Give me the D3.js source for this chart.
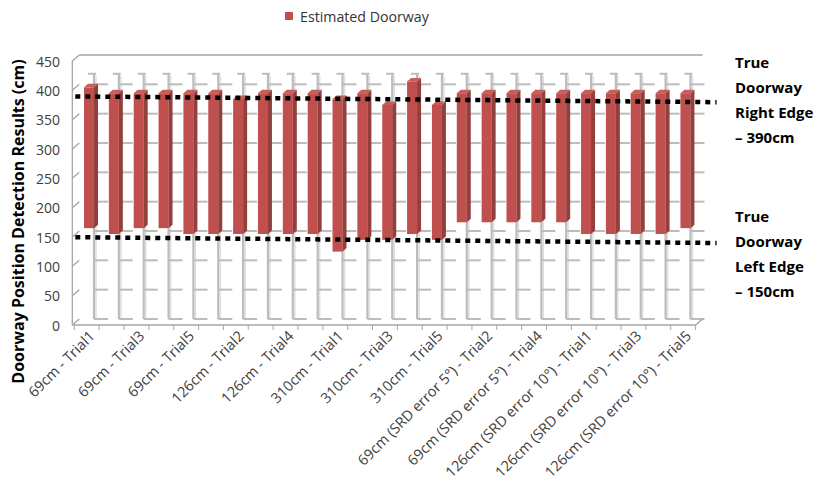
<!DOCTYPE html>
<html>
<head>
<meta charset="utf-8">
<script src="https://cdn.jsdelivr.net/npm/d3@7"></script>
<style>
  html, body { margin: 0; padding: 0; background: #ffffff; }
  svg { display: block; }
  text { font-family: "Open Sans", "Liberation Sans", sans-serif; }
</style>
</head>
<body>
<svg id="chart" width="814" height="487"></svg>
<script>
// Doorway detection trials
const categories = [
  "69cm - Trial1", "69cm - Trial2", "69cm - Trial3", "69cm - Trial4", "69cm - Trial5",
  "126cm - Trial1", "126cm - Trial2", "126cm - Trial3", "126cm - Trial4", "126cm - Trial5",
  "310cm - Trial1", "310cm - Trial2", "310cm - Trial3", "310cm - Trial4", "310cm - Trial5",
  "69cm (SRD error 5°) - Trial1", "69cm (SRD error 5°) - Trial2", "69cm (SRD error 5°) - Trial3",
  "69cm (SRD error 5°) - Trial4", "69cm (SRD error 5°) - Trial5",
  "126cm (SRD error 10°) - Trial1", "126cm (SRD error 10°) - Trial2", "126cm (SRD error 10°) - Trial3",
  "126cm (SRD error 10°) - Trial4", "126cm (SRD error 10°) - Trial5"
];
// Estimated left edge (bar bottom) and right edge (bar top), cm
const leftEdge  = [160, 150, 160, 160, 150, 150, 150, 150, 150, 150, 120, 140, 140, 150, 140,
                   170, 170, 170, 170, 170, 150, 150, 150, 150, 160];
const rightEdge = [400, 390, 390, 390, 390, 390, 380, 390, 390, 390, 380, 390, 370, 410, 370,
                   390, 390, 390, 390, 390, 390, 390, 390, 390, 390];

const yTicks = [0, 50, 100, 150, 200, 250, 300, 350, 400, 450];
const seriesName = "Estimated Doorway";
const yTitle = "Doorway Position  Detection Results (cm)";

// True doorway reference edges
const trueRight = 390;
const trueLeft = 150;
const trueRightLabel = ["True", "Doorway", "Right Edge", "– 390cm"];
const trueLeftLabel = ["True", "Doorway", "Left Edge", "– 150cm"];

const svg = d3.select("#chart");

const y = d3.scaleLinear().domain([0, 450]).range([325, 61]);
const x = d3.scaleBand().domain(categories).range([74.3, 695.6]).padding(0);
const bw = x.bandwidth();

// perspective offsets for the back wall and for bars at mid depth
const wallDx = 7, wallDy = -6;
const barDy = -3;
const depthDx = 4, depthDy = -3.5;
const barFront = 10;

const gridColor = "#bcbcbc";
const axisColor = "#a6a6a6";

// ---- back wall frame ----
const x0 = x.range()[0], x1 = x.range()[1];
const g = svg.append("g");

// top edge of the back wall (450)
g.append("line")
  .attr("x1", x0 - 2 + wallDx).attr("x2", x1 + wallDx)
  .attr("y1", y(450) + wallDy).attr("y2", y(450) + wallDy)
  .attr("stroke", axisColor).attr("stroke-width", 1.5);

// vertical pillars behind each category, with gridline stubs
const pillarTop = 418;
const gridVals = yTicks.filter(v => v < 450);
categories.forEach(c => {
  const px = x(c) + 19.7;
  g.append("line")
    .attr("x1", px + 2).attr("x2", px + 2)
    .attr("y1", y(pillarTop) + wallDy + 2).attr("y2", y(0) + wallDy)
    .attr("stroke", "#dedede").attr("stroke-width", 1.5);
  g.append("line")
    .attr("x1", px).attr("x2", px)
    .attr("y1", y(pillarTop) + wallDy).attr("y2", y(0) + wallDy)
    .attr("stroke", gridColor).attr("stroke-width", 2.2);
  g.append("line")
    .attr("x1", px - 6).attr("x2", px + 2)
    .attr("y1", y(pillarTop) + wallDy).attr("y2", y(pillarTop) + wallDy)
    .attr("stroke", gridColor).attr("stroke-width", 2);
  gridVals.forEach(v => {
    g.append("line")
      .attr("x1", px).attr("x2", px + 14)
      .attr("y1", y(v) + wallDy).attr("y2", y(v) + wallDy)
      .attr("stroke", gridColor).attr("stroke-width", 2);
  });
});

// front-left value axis with diagonal ticks into the wall
g.append("line")
  .attr("x1", x0 - 2).attr("x2", x0 - 2)
  .attr("y1", y(450)).attr("y2", y(0))
  .attr("stroke", axisColor).attr("stroke-width", 1.3);
yTicks.forEach(v => {
  g.append("line")
    .attr("x1", x0 - 2).attr("x2", x0 - 2 + wallDx)
    .attr("y1", y(v)).attr("y2", y(v) + wallDy)
    .attr("stroke", axisColor).attr("stroke-width", 1.3);
});

// floor front edge, right corner and category ticks
g.append("line")
  .attr("x1", x0 - 2).attr("x2", x1)
  .attr("y1", y(0)).attr("y2", y(0))
  .attr("stroke", axisColor).attr("stroke-width", 1.5);
g.append("line")
  .attr("x1", x1).attr("x2", x1 + wallDx)
  .attr("y1", y(0)).attr("y2", y(0) + wallDy)
  .attr("stroke", axisColor).attr("stroke-width", 1.5);
d3.range(categories.length + 1).forEach(i => {
  const tx = x0 + i * bw;
  g.append("line")
    .attr("x1", tx).attr("x2", tx)
    .attr("y1", y(0)).attr("y2", y(0) + 5)
    .attr("stroke", axisColor).attr("stroke-width", 1);
});

// ---- y axis labels ----
svg.append("g").selectAll("text").data(yTicks).join("text")
  .attr("x", 60).attr("y", d => y(d))
  .attr("text-anchor", "end").attr("dominant-baseline", "central")
  .attr("font-size", 14).attr("fill", "#404040")
  .text(d => d);

// ---- 3D floating bars ----
const rows = categories.map((c, i) => ({ c, lo: leftEdge[i], hi: rightEdge[i] }));
const bars = svg.append("g");
rows.forEach(d => {
  const bx0 = x(d.c) + 9.7, bx1 = bx0 + barFront;
  const yt = y(d.hi) + barDy, yb = y(d.lo) + barDy;
  // side face
  bars.append("path")
    .attr("d", `M${bx1},${yt} L${bx1 + depthDx},${yt + depthDy} L${bx1 + depthDx},${yb + depthDy} L${bx1},${yb} Z`)
    .attr("fill", "#93403d");
  // top face
  bars.append("path")
    .attr("d", `M${bx0},${yt} L${bx0 + depthDx},${yt + depthDy} L${bx1 + depthDx},${yt + depthDy} L${bx1},${yt} Z`)
    .attr("fill", "#c95d5a");
  // front face
  bars.append("rect")
    .attr("x", bx0).attr("y", yt)
    .attr("width", barFront).attr("height", yb - yt)
    .attr("fill", "#c0504d");
});

// ---- true doorway edges (dotted) ----
[trueRight, trueLeft].forEach(v => {
  svg.append("line")
    .attr("x1", x0 + 1).attr("x2", x1 + 21)
    .attr("y1", y(v) + 0.2).attr("y2", y(v) + 6)
    .attr("stroke", "#000").attr("stroke-width", 4.5)
    .attr("stroke-dasharray", "5,5");
});

// ---- category labels (every other) ----
svg.append("g").selectAll("text")
  .data(categories.filter((c, i) => i % 2 === 0)).join("text")
  .attr("transform", c => `translate(${x(c) + bw / 2 + 9},${y(0) + 12}) rotate(-45)`)
  .attr("text-anchor", "end")
  .attr("font-size", 14.5).attr("fill", "#404040")
  .text(c => c);

// ---- y axis title ----
svg.append("text")
  .attr("transform", `translate(24,${(y(450) + 386) / 2 - 2}) rotate(-90)`)
  .attr("text-anchor", "middle")
  .attr("font-size", 16).attr("font-weight", "bold").attr("fill", "#000")
  .text(yTitle);

// ---- reference edge annotations ----
function annotate(lines, top) {
  svg.append("g").selectAll("text").data(lines).join("text")
    .attr("x", 735).attr("y", (d, i) => top + i * 25)
    .attr("dominant-baseline", "central")
    .attr("font-size", 15).attr("font-weight", "bold").attr("fill", "#000")
    .text(d => d);
}
annotate(trueRightLabel, 62);
annotate(trueLeftLabel, 216);

// ---- legend ----
const lg = svg.append("g");
lg.append("rect").attr("x", 285).attr("y", 12).attr("width", 8).attr("height", 8).attr("fill", "#c0504d");
lg.append("text").attr("x", 300).attr("y", 16).attr("dominant-baseline", "central")
  .attr("font-size", 14.2).attr("fill", "#333")
  .text(seriesName);
</script>
</body>
</html>
